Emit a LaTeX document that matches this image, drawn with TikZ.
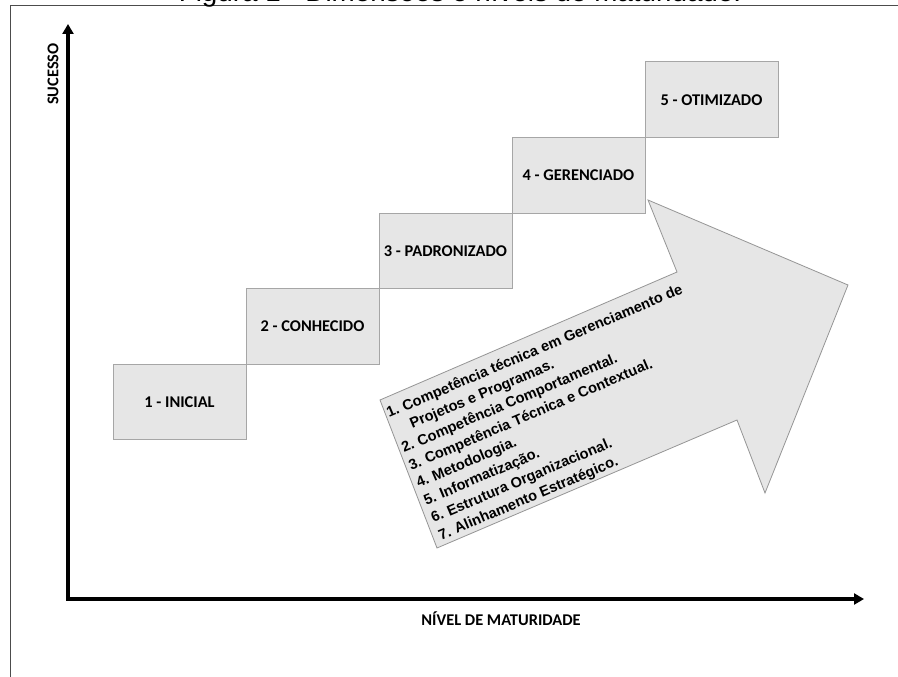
\documentclass[tikz,border=0pt]{standalone}
\usepackage{fontspec}
\usepackage{tikz}
\usetikzlibrary{positioning,arrows.meta}
\newfontfamily\carlito{Carlito}
\newfontfamily\arialfont{Liberation Sans}
\definecolor{cinza}{HTML}{E6E6E6}
\definecolor{borda}{HTML}{A6A6A6}

\begin{document}
\begin{tikzpicture}[
    x=1pt, y=-1pt,
    nivel/.style={draw=borda, fill=cinza, line width=1pt, outer sep=0pt,
      minimum width=133pt, minimum height=75.5pt, inner sep=0pt,
      font=\carlito\bfseries\fontsize{16.4}{19}\selectfont},
    rotulo/.style={font=\carlito\bfseries\fontsize{16.4}{19}\selectfont},
    eixo/.style={line width=3.3pt, line join=miter,
      {Triangle[length=10pt,width=11pt]}-{Triangle[length=10pt,width=11pt]}}
  ]
  \useasboundingbox (0,0) rectangle (898,677);
  % moldura e titulo
  \draw[black!70, line width=1pt] (898,6) -- (10,6) -- (10,677);
  \node[anchor=base, font=\arialfont\fontsize{27.8}{31}\selectfont] (titulo) at (460,2)
    {Figura 1 - Dimensões e níveis de maturidade.};
  % eixos
  \coordinate (origem) at (68,599);
  \coordinate (topo) at (68,24);
  \coordinate (fim) at (864,599);
  \draw[eixo] (topo) -- (origem) -- (fim);
  \node[rotulo, rotate=90] (sucesso) at (53,74) {SUCESSO};
  \node[rotulo] (maturidade) at (501,619) {NÍVEL DE MATURIDADE};
  % niveis
  \node[nivel] (inicial) at (179.5,401.75) {1 - INICIAL};
  \node[nivel, anchor=south west] (conhecido) at (inicial.north east) {2 - CONHECIDO};
  \node[nivel, anchor=south west] (padronizado) at (conhecido.north east) {3 - PADRONIZADO};
  \node[nivel, anchor=south west] (gerenciado) at (padronizado.north east) {4 - GERENCIADO};
  \node[nivel, anchor=south west] (otimizado) at (gerenciado.north east) {5 - OTIMIZADO};
  % seta das dimensoes
  \draw[draw=borda!90!black, fill=cinza, line width=0.8pt, line join=miter]
    (380,400) -- (677,272) -- (648,200) -- (848,285) -- (765,493) -- (737,420) -- (437,548) -- cycle;
  \node[anchor=base west, rotate=23, inner sep=0pt,
    font=\arialfont\bfseries\fontsize{14.6}{19}\selectfont] (dimensoes) at (389,418)
    {\begin{tabular}[t]{@{}l@{\hspace{5pt}}l@{}}
      1. & Competência técnica em Gerenciamento de\\
         & Projetos e Programas.\\
      2. & Competência Comportamental.\\
      3. & Competência Técnica e Contextual.\\
      4. & Metodologia.\\
      5. & Informatização.\\
      6. & Estrutura Organizacional.\\
      7. & Alinhamento Estratégico.
    \end{tabular}};
\end{tikzpicture}
\end{document}
